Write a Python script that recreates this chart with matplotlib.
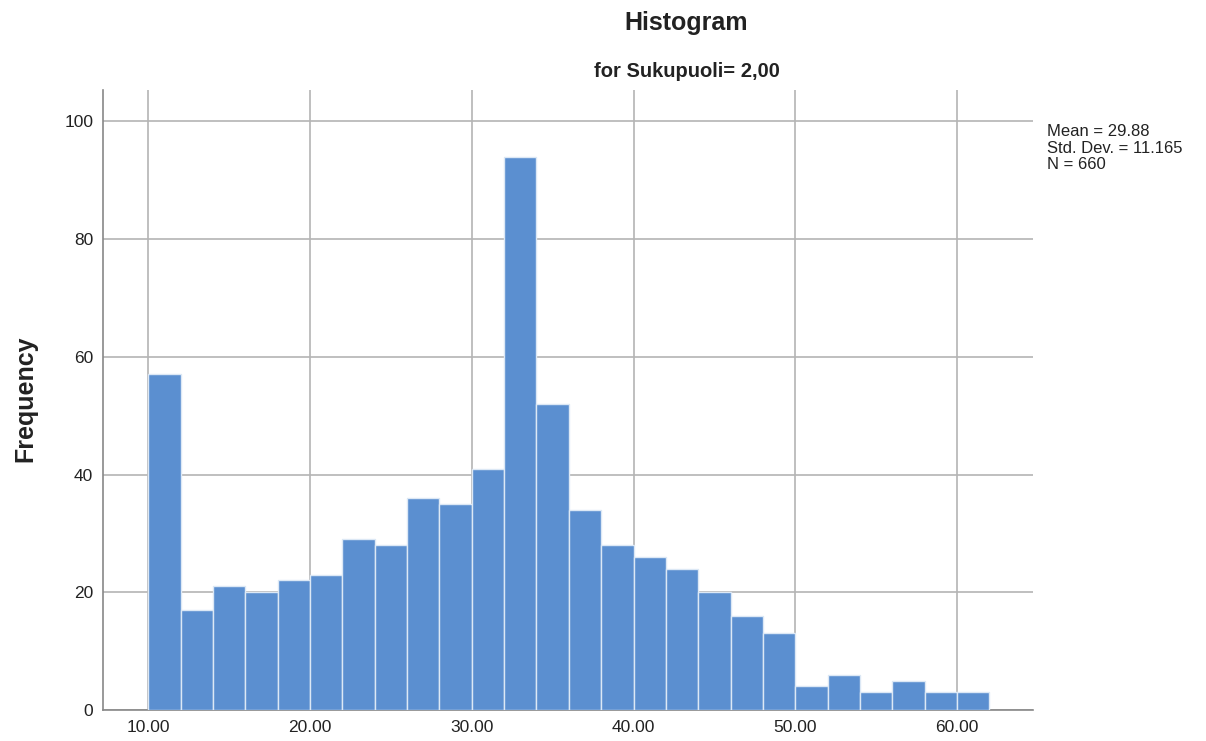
import numpy as np
import matplotlib.pyplot as plt

plt.rcParams['font.family'] = ['Liberation Sans', 'DejaVu Sans']

# counts per bin (bin width 2, starting at 10)
bin_edges = np.arange(10, 64, 2)
counts = [57, 17, 21, 20, 22, 23, 29, 28, 36, 35, 41, 94, 52,
          34, 28, 26, 24, 20, 16, 13, 4, 6, 3, 5, 3, 3]
x_ticks = [10, 20, 30, 40, 50, 60]
y_ticks = [0, 20, 40, 60, 80, 100]
stats_text = "Mean = 29.88\nStd. Dev. = 11.165\nN = 660"

fig = plt.figure(figsize=(12.06, 7.41), dpi=100)
ax = fig.add_axes([0.0854, 0.0418, 0.7712, 0.8367])

ax.bar(bin_edges[:-1], counts, width=2, align='edge',
       color='#5b8fd0', edgecolor='#dce8f5', linewidth=1.0, zorder=3)

ax.set_xlim(7.2, 64.7)
ax.set_ylim(0, 105.3)
ax.set_xticks(x_ticks)
ax.set_xticklabels([f"{t:.2f}" for t in x_ticks])
ax.set_yticks(y_ticks)
ax.grid(True, color='#b4b4b4', linewidth=1.2, zorder=0)
ax.tick_params(length=0, labelsize=12.5, colors='#222222', pad=7)

for s in ['top', 'right']:
    ax.spines[s].set_visible(False)
for s in ['left', 'bottom']:
    ax.spines[s].set_color('#888888')
    ax.spines[s].set_linewidth(1.2)

# axis label and titles placed in figure coordinates
fig.text(0.021, 0.462, 'Frequency', rotation=90, ha='center', va='center',
         fontsize=18, fontweight='bold', color='#222222')
fig.text(0.569, 0.969, 'Histogram', ha='center', va='center',
         fontsize=18, fontweight='bold', color='#222222')
fig.text(0.570, 0.903, 'for Sukupuoli= 2,00', ha='center', va='center',
         fontsize=14.5, fontweight='bold', color='#222222')
fig.text(0.868, 0.832, stats_text, ha='left', va='top',
         fontsize=12, color='#222222', linespacing=1.12)

fig.savefig('out.png', dpi=100)
